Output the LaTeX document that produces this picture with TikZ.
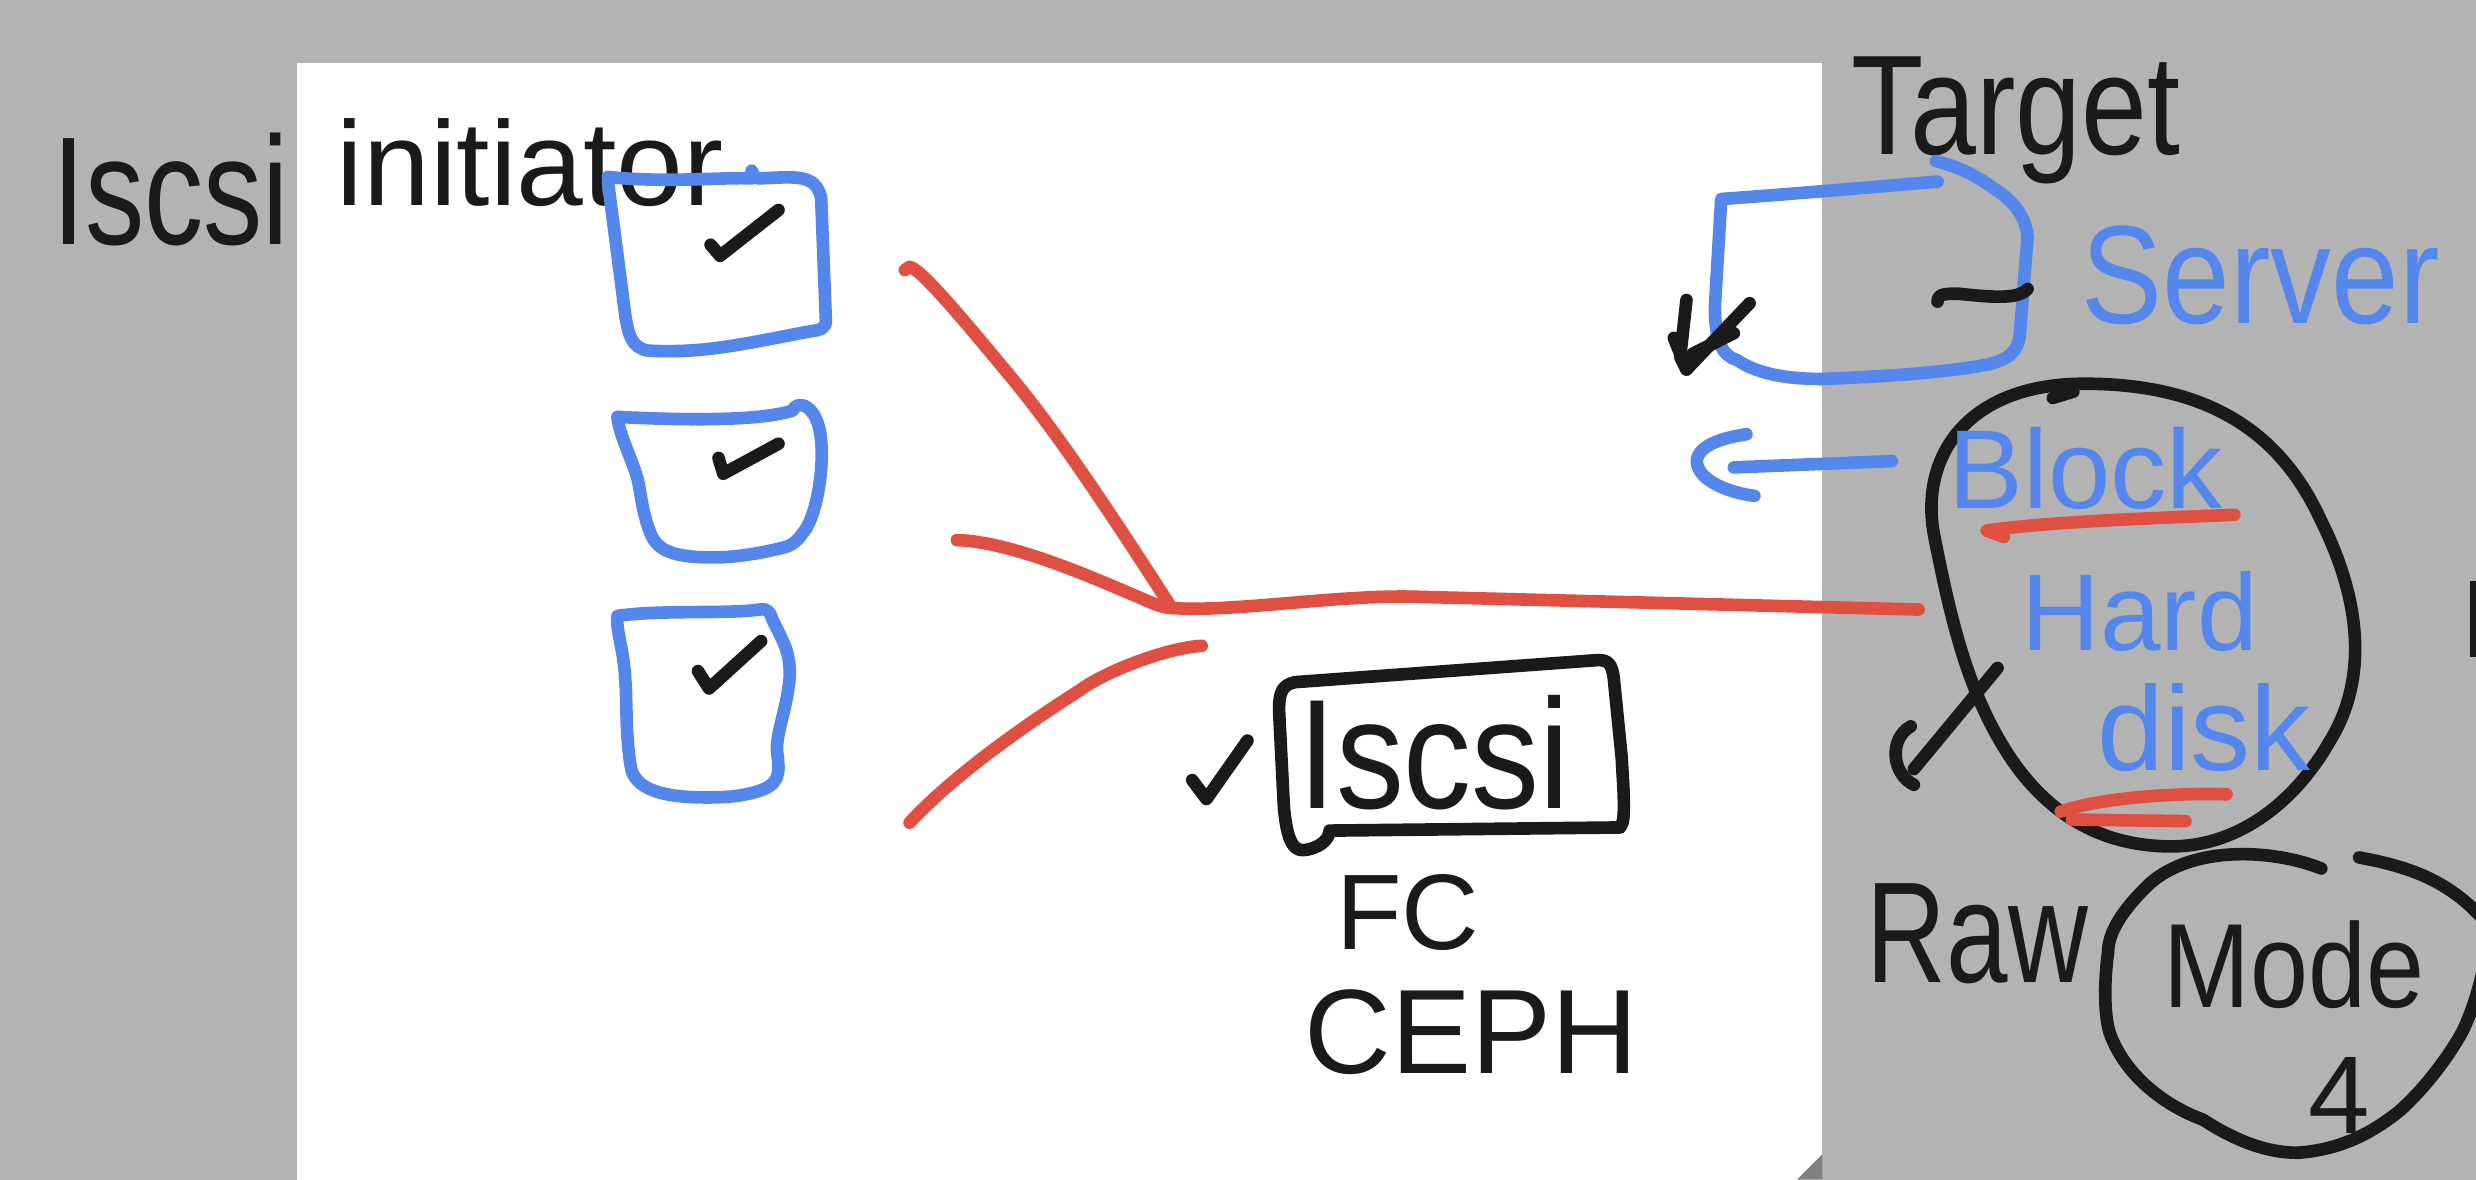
\documentclass[tikz,border=0pt]{standalone}
\usepackage{fontspec}
\setmainfont{Liberation Sans}
\definecolor{bggray}{HTML}{B3B3B3}
\definecolor{cornergray}{HTML}{7F7F7F}
\definecolor{ink}{HTML}{1A1A1A}
\definecolor{penblue}{HTML}{5586EC}
\definecolor{penred}{HTML}{DF5042}
\begin{document}
\begin{tikzpicture}[x=1pt,y=-1pt,line cap=round,line join=round,
  kpen/.style={draw=ink,line width=8pt},
  bpen/.style={draw=penblue,line width=8pt},
  rpen/.style={draw=penred,line width=8pt},
  hand/.style={inner sep=0pt,anchor=base west,text=ink},
  fs/.style={font=\fontsize{#1}{#1}\selectfont}]
\useasboundingbox (0,0) rectangle (1568,747);
% background and page
\fill[bggray] (0,0) rectangle (1568,747);
\fill[white] (188,40) rectangle (1154,747);
\fill[cornergray] (1138,747) -- (1154,731) -- (1154,747) -- cycle;
\fill[ink] (1564,368) rectangle (1568,416);

% titles
\node[hand,fs=75,yscale=1.3] (iscsiL) at (33,155) {Iscsi};
\node[hand,fs=76] (initiator) at (213,130) {initiator};
\node[hand,fs=75,yscale=1.2] (target) at (1172,98) {Target};
\node[hand,fs=77,yscale=1.15,text=penblue] (server) at (1318,205) {Server};

% initiator boxes
\draw[bpen] (385,112) .. controls (420,116) and (460,112) .. (476,113) -- (476,108) .. controls (476,108) and (478,113) .. (480,113)
  .. controls (505,112) and (516,110) .. (520,125) -- (523,203) .. controls (523,208) and (520,209) .. (512,210)
  .. controls (470,218) and (445,224) .. (410,222) .. controls (400,220) and (398,212) .. (396,200) -- (385,115);
\draw[kpen] (450,155) -- (456,162) -- (493,133);

\draw[bpen] (391,264) .. controls (430,266) and (480,267) .. (502,260) .. controls (504,253) and (518,255) .. (520,279)
  .. controls (522,300) and (516,330) .. (508,338) .. controls (504,344) and (500,346) .. (495,347)
  .. controls (475,352) and (460,353) .. (452,353) .. controls (430,353) and (418,350) .. (413,340)
  .. controls (408,330) and (406,315) .. (404,304) .. controls (400,290) and (392,275) .. (391,264);
\draw[kpen] (455,290) -- (458,300) -- (493,281);

\draw[bpen] (391,390) .. controls (420,386) and (460,389) .. (481,386) .. controls (486,385) and (488,388) .. (489,392)
  .. controls (495,405) and (501,412) .. (500,430) .. controls (498,450) and (492,462) .. (492,475)
  .. controls (493,485) and (496,495) .. (483,500) .. controls (470,505) and (455,505) .. (447,505)
  .. controls (420,505) and (404,500) .. (400,488) .. controls (396,470) and (397,440) .. (396,431)
  .. controls (395,410) and (390,400) .. (391,390) -- cycle;
\draw[kpen] (442,425) -- (449,436) -- (482,406);

% red connectors
\coordinate (hub) at (742,385);
\coordinate (inA) at (573,171);
\coordinate (inB) at (606,342);
\coordinate (inC) at (761,409);
\coordinate (disk in) at (1215,386);
\draw[rpen] (inA) -- (576,169) .. controls (582,170) and (600,190) .. (642,241) .. controls (670,275) and (700,320) .. (hub);
\draw[rpen] (inB) .. controls (640,343) and (690,365) .. (716,376) .. controls (728,381) and (735,385) .. (hub);
\draw[rpen] (inC) .. controls (740,410) and (700,425) .. (684,437) .. controls (640,465) and (600,495) .. (576,521);
\draw[rpen] (hub) .. controls (780,388) and (850,376) .. (900,378) -- (disk in);

% checked Iscsi box
\draw[kpen] (755,494) -- (764,506) -- (790,469);
\draw[kpen] (842,526) -- (1026,524) .. controls (1030,520) and (1028,500) .. (1027,480)
  -- (1022,430) .. controls (1021,420) and (1018,418) .. (1012,418)
  -- (820,432) .. controls (812,434) and (810,438) .. (810,450)
  -- (813,510) .. controls (815,535) and (820,540) .. (828,538) .. controls (838,536) and (842,530) .. (842,526);
\node[hand,fs=86,yscale=1.15] (iscsiB) at (822,512) {Iscsi};
\node[hand,fs=68] (fc) at (846,601) {FC};
\node[hand,fs=76] (ceph) at (826,680) {CEPH};

% target server box
\draw[bpen] (1227,115) .. controls (1180,119) and (1120,124) .. (1090,126) -- (1086,194)
  .. controls (1086,215) and (1090,225) .. (1100,228) .. controls (1115,238) and (1135,240) .. (1155,240)
  .. controls (1200,238) and (1230,236) .. (1258,231) .. controls (1272,228) and (1278,222) .. (1279,213)
  -- (1284,150) .. controls (1283,135) and (1272,125) .. (1262,119) .. controls (1250,110) and (1238,105) .. (1226,102);
\draw[kpen] (1227,191) .. controls (1227,186) and (1232,186) .. (1240,186) .. controls (1260,188) and (1278,190) .. (1284,183);
\draw[kpen] (1068,190) -- (1064,226) -- (1068,234) -- (1108,192);
\draw[kpen] (1060,214) -- (1068,234);
\draw[kpen] (1098,211) -- (1072,224);

% blue arrow
\coordinate (arrow start) at (1198,292);
\coordinate (arrow end) at (1098,296);
\draw[bpen] (arrow start) -- (arrow end);
\draw[bpen] (1106,275) .. controls (1085,278) and (1072,285) .. (1075,295) .. controls (1078,305) and (1095,312) .. (1111,314);

% hard disk blob
\draw[kpen] (1320,243) .. controls (1400,243) and (1445,275) .. (1470,330)
  .. controls (1495,380) and (1500,430) .. (1475,470) .. controls (1455,505) and (1420,536) .. (1375,536)
  .. controls (1330,536) and (1295,515) .. (1270,475) .. controls (1245,435) and (1235,390) .. (1225,340)
  .. controls (1215,290) and (1245,243) .. (1320,243);
\draw[kpen] (1300,252) -- (1313,248);
\node[hand,fs=71,text=penblue] (block) at (1234,322) {Block};
\draw[rpen] (1269,340) -- (1258,336) .. controls (1300,330) and (1370,328) .. (1415,326);
\node[hand,fs=69,text=penblue] (hard) at (1280,412) {Hard};
\node[hand,fs=76,text=penblue] (disk) at (1328,488) {disk};
\draw[rpen] (1305,514) .. controls (1330,505) and (1380,502) .. (1410,503);
\draw[rpen] (1312,519) -- (1384,520);
\draw[kpen] (1265,423) -- (1212,487);
\draw[kpen] (1210,460) .. controls (1196,468) and (1198,490) .. (1212,497);

% raw mode
\node[hand,fs=70,yscale=1.3] (raw) at (1182,622) {Raw};
\draw[kpen] (1470,550) .. controls (1440,538) and (1390,535) .. (1362,559)
  .. controls (1345,575) and (1335,590) .. (1335,603) .. controls (1332,625) and (1333,645) .. (1336,654)
  .. controls (1345,680) and (1370,700) .. (1395,709) .. controls (1415,722) and (1435,730) .. (1455,730)
  .. controls (1485,728) and (1505,715) .. (1519,704) .. controls (1535,690) and (1550,670) .. (1559,654)
  .. controls (1566,640) and (1572,620) .. (1575,600);
\draw[kpen] (1494,543) .. controls (1520,548) and (1550,555) .. (1575,585);
\node[hand,fs=66,yscale=1.15] (mode) at (1370,638) {Mode};
\node[hand,fs=70] (four) at (1462,718) {4};
\end{tikzpicture}
\end{document}
